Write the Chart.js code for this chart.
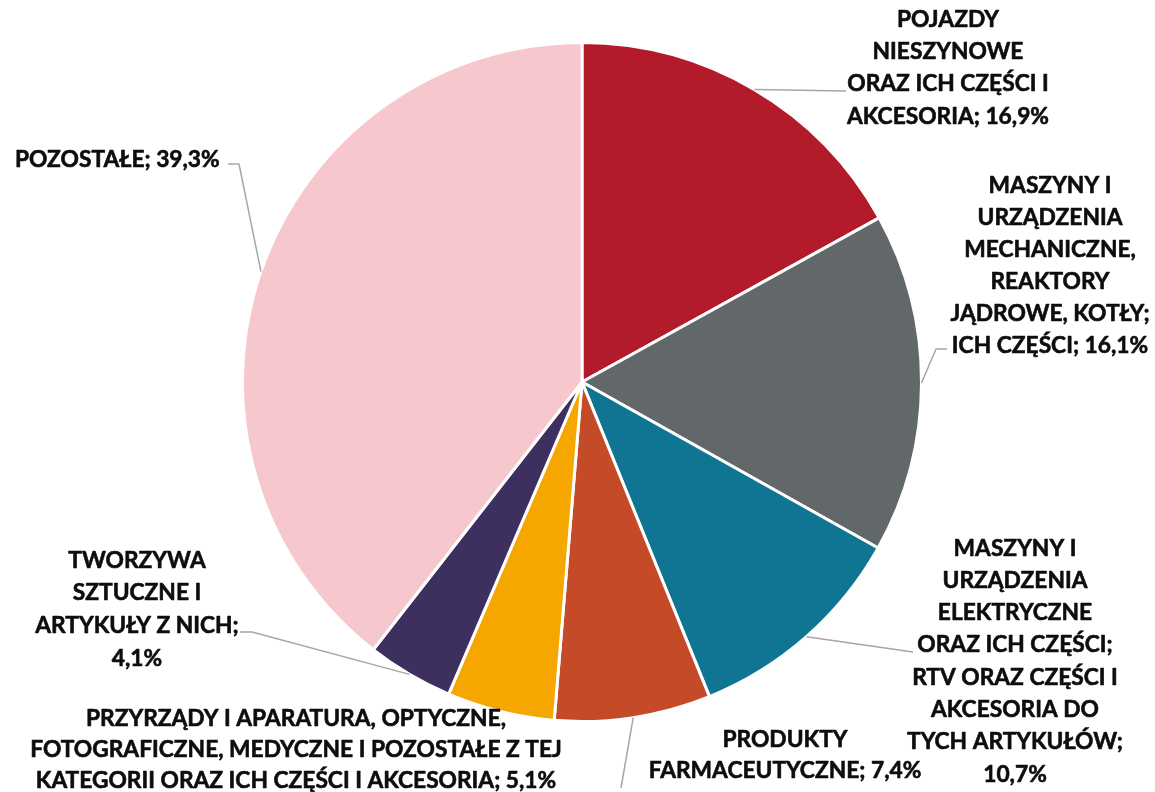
<!DOCTYPE html>
<html>
<head>
<meta charset="utf-8">
<script src="https://cdn.jsdelivr.net/npm/chart.js@4.4.0/dist/chart.umd.min.js"></script>
<style>
html,body{margin:0;padding:0;background:#fff;}
#wrap{width:1155px;height:792px;position:relative;}
</style>
</head>
<body>
<div id="wrap"><canvas id="c" width="1155" height="792"></canvas></div>
<script>
// ---- data ----
const categories = [
  "POJAZDY|NIESZYNOWE|ORAZ ICH CZĘŚCI I|AKCESORIA; {v}",
  "MASZYNY I|URZĄDZENIA|MECHANICZNE,|REAKTORY|JĄDROWE, KOTŁY;|ICH CZĘŚCI; {v}",
  "MASZYNY I|URZĄDZENIA|ELEKTRYCZNE|ORAZ ICH CZĘŚCI;|RTV ORAZ CZĘŚCI I|AKCESORIA DO|TYCH ARTYKUŁÓW;|{v}",
  "PRODUKTY|FARMACEUTYCZNE; {v}",
  "PRZYRZĄDY I APARATURA, OPTYCZNE,|FOTOGRAFICZNE, MEDYCZNE I POZOSTAŁE Z TEJ|KATEGORII ORAZ ICH CZĘŚCI I AKCESORIA; {v}",
  "TWORZYWA|SZTUCZNE I|ARTYKUŁY Z NICH;|{v}",
  "POZOSTAŁE; {v}"
];
const values = [16.9, 16.1, 10.7, 7.4, 5.1, 4.1, 39.3];
const colors = ["#B31B2A", "#62676A", "#0F7592", "#C54A27", "#F5A700", "#3D305F", "#F6C8CD"];

// ---- label layout (text anchor and leader line elbows) ----
const labelLayout = [
  {x: 948,  y: 18.5, lh: 32.2, align: "center", line: [[846, 91]]},
  {x: 1050, y: 184,  lh: 32,   align: "center", line: [[936, 349], [947, 349]]},
  {x: 1015, y: 547,  lh: 32.3, align: "center", line: [[913, 652]]},
  {x: 785,  y: 738,  lh: 31,   align: "center", line: [[621, 788]]},
  {x: 296,  y: 717,  lh: 31,   align: "center", line: null},
  {x: 137,  y: 559,  lh: 32.7, align: "center", line: [[252, 632], [240, 632]]},
  {x: 15,   y: 158,  lh: 32,   align: "left",   line: [[239, 164], [228, 164]]}
];

function fmt(v){ return v.toFixed(1).replace(".", ",") + "%"; }

const labelPlugin = {
  id: "pieLabels",
  afterDatasetsDraw(chart){
    const ctx = chart.ctx;
    const meta = chart.getDatasetMeta(0);
    ctx.save();
    ctx.font = "700 20px Lato";
    const w = ctx.measureText("AKCESORIA; 16,9%").width;
    const fs = 20 * 202 / w;
    ctx.font = "700 " + fs.toFixed(2) + "px Lato";
    const capH = ctx.measureText("H").actualBoundingBoxAscent;
    meta.data.forEach((arc, i) => {
      const L = labelLayout[i];
      const p = arc.getProps(["x","y","startAngle","endAngle","outerRadius"], true);
      const mid = (p.startAngle + p.endAngle) / 2;
      const ax = p.x + Math.cos(mid) * p.outerRadius;
      const ay = p.y + Math.sin(mid) * p.outerRadius;
      if (L.line){
        ctx.beginPath();
        ctx.strokeStyle = "#A6A6A6";
        ctx.lineWidth = 1.5;
        ctx.moveTo(ax, ay);
        L.line.forEach(pt => ctx.lineTo(pt[0], pt[1]));
        ctx.stroke();
      }
      const lines = categories[i].replace("{v}", fmt(values[i])).split("|");
      ctx.fillStyle = "#0D0D0D";
      ctx.strokeStyle = "#0D0D0D";
      ctx.lineWidth = 0.6;
      ctx.lineJoin = "round";
      ctx.textAlign = L.align;
      ctx.textBaseline = "alphabetic";
      lines.forEach((t, k) => {
        const ty = L.y + k * L.lh + capH / 2;
        ctx.fillText(t, L.x, ty);
        ctx.strokeText(t, L.x, ty);
      });
    });
    ctx.restore();
  }
};

new Chart(document.getElementById("c"), {
  type: "pie",
  data: {
    labels: categories.map(c => c.split("|").join(" ").replace("{v}", "")),
    datasets: [{
      data: values,
      backgroundColor: colors,
      borderColor: "#FFFFFF",
      borderWidth: 3,
      hoverOffset: 0,
      offset: 0
    }]
  },
  options: {
    responsive: false,
    animation: false,
    radius: 339.5,
    layout: {padding: {top: 40, bottom: 68, left: 240, right: 231}},
    plugins: {legend: {display: false}, tooltip: {enabled: false}},
    events: []
  },
  plugins: [labelPlugin]
});
</script>
</body>
</html>
